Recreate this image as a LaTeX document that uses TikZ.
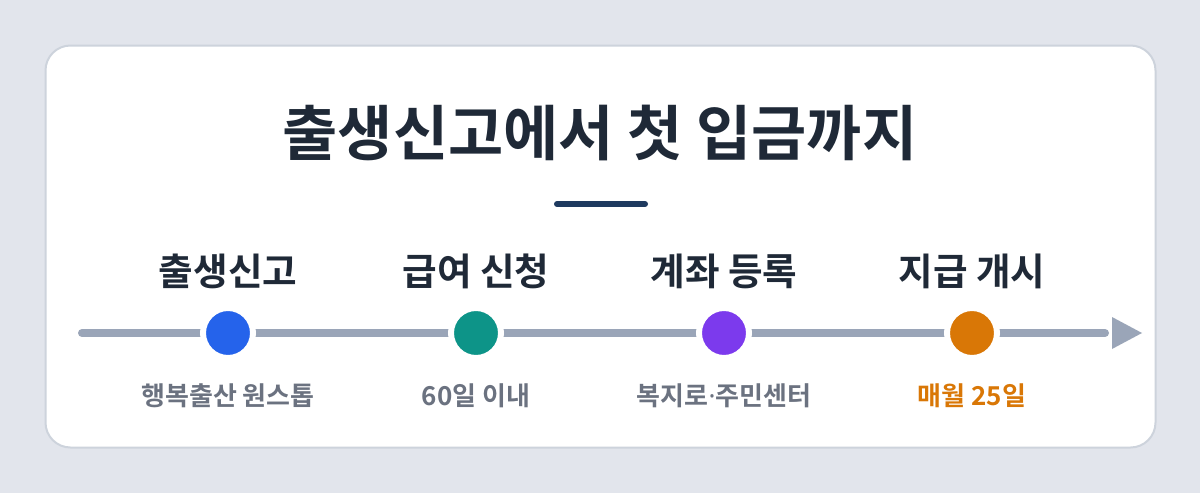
\documentclass[tikz,border=0pt]{standalone}
\usepackage{fontspec}
\setmainfont{Noto Sans CJK KR}[BoldFont={Noto Sans CJK KR Bold}]
\newfontfamily\latsans{Noto Sans}
\usetikzlibrary{positioning}
\definecolor{pagebg}{HTML}{E2E5EC}
\definecolor{cardline}{HTML}{CDD3DC}
\definecolor{ink}{HTML}{1F2937}
\definecolor{navy}{HTML}{1E3A5F}
\definecolor{track}{HTML}{9AA5B8}
\definecolor{muted}{HTML}{6B7280}
\definecolor{cblue}{HTML}{2563EB}
\definecolor{cteal}{HTML}{0D9488}
\definecolor{cpurple}{HTML}{7C3AED}
\definecolor{corange}{HTML}{D97706}
\newcommand{\mkstage}[6]{\node[dot,fill=#3] (d#1) at (#2,333) {}; \node[stage] (s#1) at (#2,271) {#4}; \node[note,text=#6] (n#1) at (#2,396) {#5};}

\begin{document}
\begin{tikzpicture}[
    x=0.5pt, y=-0.5pt,
    dot/.style={circle,draw=white,line width=3pt,minimum size=25pt,inner sep=0pt},
    stage/.style={font=\bfseries\fontsize{18.8}{21}\selectfont,text=ink,inner sep=0pt},
    note/.style={font=\bfseries\fontsize{13}{15}\selectfont,inner sep=0pt},
    ]
    \useasboundingbox[fill=pagebg] (0,0) rectangle (1200,493);
    \draw[cardline,fill=white,line width=1pt,rounded corners=12.5pt] (45.5,45.5) rectangle (1155.5,447.5);
    \node[font=\bfseries\fontsize{30}{34}\selectfont,text=ink] (title) at (600,133) {출생신고에서 첫 입금까지};
    \draw[navy,line width=3pt,line cap=round] (557,204) -- (645,204);
    % timeline
    \coordinate (tstart) at (82,333);
    \coordinate (tend) at (1105,333);
    \draw[track,line width=4pt,line cap=round] (tstart) -- (tend);
    \fill[track] (1112,317) -- (1142,333) -- (1112,349) -- cycle;
    \mkstage{1}{228}{cblue}{출생신고}{행복출산 원스톱}{muted}
    \mkstage{2}{476}{cteal}{급여 신청}{60일 이내}{muted}
    \mkstage{3}{724}{cpurple}{계좌 등록}{복지로{\latsans ·}주민센터}{muted}
    \mkstage{4}{972}{corange}{지급 개시}{매월 25일}{corange}
  \end{tikzpicture}
\end{document}
